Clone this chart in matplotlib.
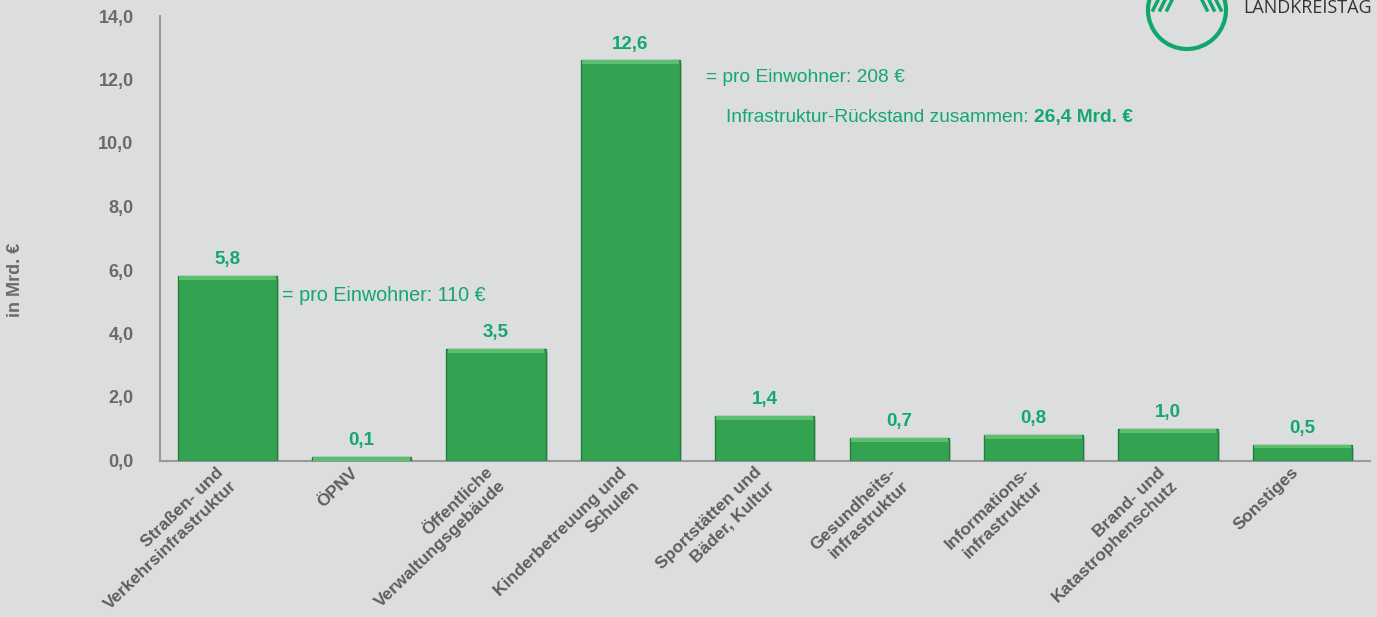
import numpy as np
import matplotlib.pyplot as plt
from matplotlib.patches import Ellipse
from matplotlib.lines import Line2D
from matplotlib.transforms import ScaledTranslation

plt.rcParams['font.family'] = ['Liberation Sans', 'DejaVu Sans']

# data
categories = ['Straßen- und\nVerkehrsinfrastruktur', 'ÖPNV', 'Öffentliche\nVerwaltungsgebäude',
              'Kinderbetreuung und\nSchulen', 'Sportstätten und\nBäder, Kultur', 'Gesundheits-\ninfrastruktur',
              'Informations-\ninfrastruktur', 'Brand- und\nKatastrophenschutz', 'Sonstiges']
values = [5.8, 0.1, 3.5, 12.6, 1.4, 0.7, 0.8, 1.0, 0.5]
value_labels = ['5,8', '0,1', '3,5', '12,6', '1,4', '0,7', '0,8', '1,0', '0,5']
y_ticks = [0, 2, 4, 6, 8, 10, 12, 14]
y_ticklabels = ['0,0', '2,0', '4,0', '6,0', '8,0', '10,0', '12,0', '14,0']

# style
bg = '#dcdddf'
green_bar = '#33a352'
green_txt = '#13a86c'
gray_txt = '#6a6a6a'
axis_col = '#999999'

W, H = 1377, 617
fig = plt.figure(figsize=(W / 100, H / 100), dpi=100, facecolor=bg)
ax = fig.add_axes([160 / W, 1 - 460.5 / H, 9 * 134.4 / W, 444.5 / H])
ax.set_facecolor(bg)

x = np.arange(len(values))
# soft shadow
shadow = ScaledTranslation(0.02, -0.03, fig.dpi_scale_trans)
ax.bar(x, values, 0.737, color='#9a9b9d', alpha=0.45, linewidth=0, zorder=2,
       transform=ax.transData + shadow)
ax.bar(x, values, 0.737, color=green_bar, edgecolor='#22803c', linewidth=1.0, zorder=3)
# light bevel along the top of each bar
top = [min(v, 0.12) for v in values]
ax.bar(x, top, 0.72, bottom=[v - t for v, t in zip(values, top)],
       color='#5cbf6f', linewidth=0, zorder=4)

for xi, v, lab in zip(x, values, value_labels):
    ax.text(xi, v + 0.25, lab, ha='center', va='bottom', color=green_txt,
            fontsize=13.5, fontweight='bold')

ax.set_xlim(-0.5, 8.5)
ax.set_ylim(0, 14)
ax.set_yticks(y_ticks)
ax.set_yticklabels(y_ticklabels, fontsize=13, fontweight='bold', color=gray_txt)
ax.tick_params(axis='y', length=0, pad=19)
ax.set_xticks(x)
ax.set_xticklabels(categories, rotation=44, ha='right', va='top', rotation_mode='anchor',
                   fontsize=12.5, fontweight='bold', color='#5e5e5e', multialignment='right',
                   linespacing=1.3)
ax.tick_params(axis='x', length=0, pad=3)
for lab in ax.get_xticklabels():
    lab.set_transform(lab.get_transform() + ScaledTranslation(-0.11, 0, fig.dpi_scale_trans))

for s in ['top', 'right']:
    ax.spines[s].set_visible(False)
for s in ['left', 'bottom']:
    ax.spines[s].set_color(axis_col)
    ax.spines[s].set_linewidth(1.5)

fig.text(15 / W, 1 - 280 / H, 'in Mrd. €', rotation=90, ha='center', va='center',
         fontsize=13, fontweight='bold', color=gray_txt)

# annotations
ax.text(0.41, 5.2, '= pro Einwohner: 110 €', color=green_txt, fontsize=14.2, va='center')
ax.text(3.56, 12.05, '= pro Einwohner: 208 €', color=green_txt, fontsize=13.8, va='center')
t1 = ax.text(3.71, 10.8, 'Infrastruktur-Rückstand zusammen: ', color=green_txt, fontsize=13.8, va='center')
fig.canvas.draw()
bb = t1.get_window_extent()
fig.text(bb.x1 / W, (bb.y0 + bb.y1) / 2 / H, '26,4 Mrd. €', color=green_txt, fontsize=13.8,
         fontweight='bold', va='center')

# logo (top right, cropped)
logo_green = '#10a86a'
fig.add_artist(Ellipse((1187 / W, 1 - 10 / H), 78 / W, 78 / H, fill=False,
                       edgecolor=logo_green, linewidth=3, transform=fig.transFigure))
for dx in [0, 7, 14]:
    fig.add_artist(Line2D([(1153 + dx) / W, (1158 + dx) / W], [1 - 10 / H, 1.0],
                          color=logo_green, linewidth=2.5, transform=fig.transFigure))
    fig.add_artist(Line2D([(1221 - dx) / W, (1216 - dx) / W], [1 - 10 / H, 1.0],
                          color=logo_green, linewidth=2.5, transform=fig.transFigure))
fig.text(1243 / W, 1 - 13 / H, 'LANDKREISTAG', fontsize=13, family='Open Sans',
         color='#333333', va='baseline', ha='left')

fig.savefig('out.png', dpi=100, facecolor=bg)
